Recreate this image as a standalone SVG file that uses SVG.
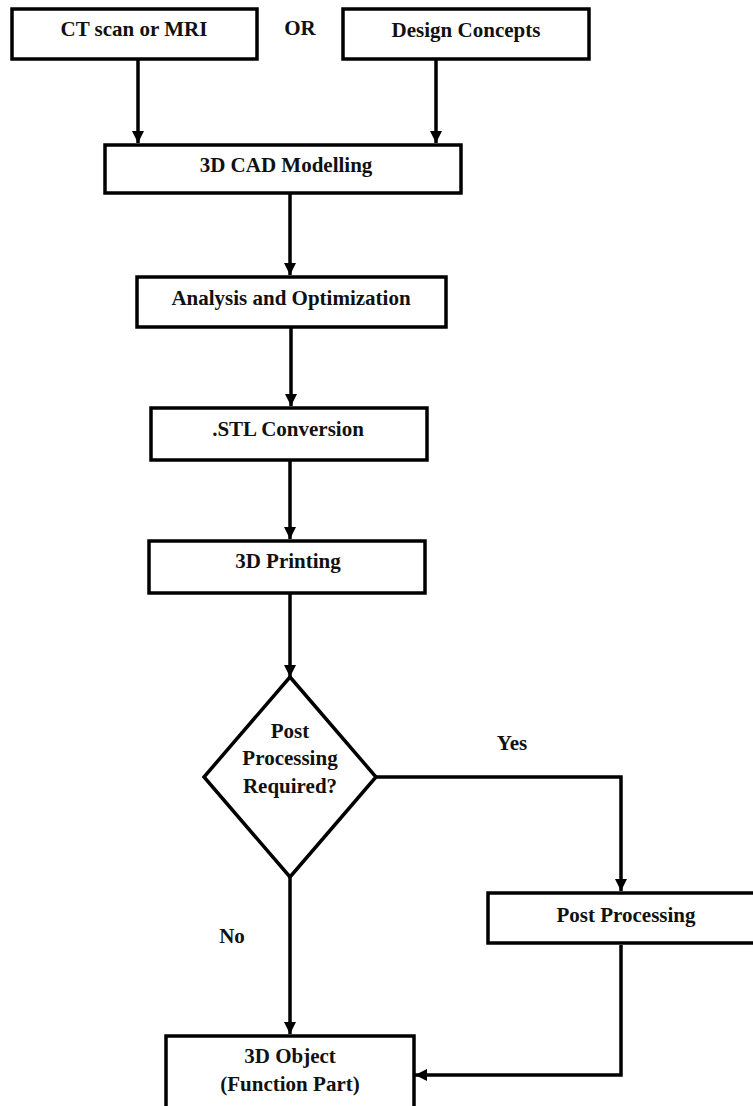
<svg xmlns="http://www.w3.org/2000/svg" width="753" height="1106" viewBox="0 0 753 1106">
<style>
.box{fill:#fff;stroke:#000;stroke-width:3.5}
.t{font-family:"Liberation Serif","Times New Roman",serif;font-weight:bold;font-size:21px;fill:#111;text-anchor:middle}
.c{fill:none;stroke:#000;stroke-width:3.5}
</style>
<defs>
<marker id="ah" markerUnits="userSpaceOnUse" markerWidth="12" markerHeight="14" refX="12" refY="6" orient="auto">
<path d="M0,0 L12,6 L0,12 Z" fill="#000"/>
</marker>
</defs>
<rect width="753" height="1106" fill="#fff"/>
<g id="connectors">
<line class="c" x1="138" y1="60" x2="138" y2="143" marker-end="url(#ah)"/>
<line class="c" x1="436" y1="60" x2="436" y2="143" marker-end="url(#ah)"/>
<line class="c" x1="290" y1="193" x2="290" y2="275" marker-end="url(#ah)"/>
<line class="c" x1="291" y1="327" x2="291" y2="406" marker-end="url(#ah)"/>
<line class="c" x1="290" y1="460" x2="290" y2="539" marker-end="url(#ah)"/>
<line class="c" x1="290" y1="593" x2="290" y2="677" marker-end="url(#ah)"/>
<polyline class="c" points="376,777 621,777 621,891" marker-end="url(#ah)"/>
<line class="c" x1="290" y1="877" x2="290" y2="1034" marker-end="url(#ah)"/>
<polyline class="c" points="621,945 621,1075 415,1075" marker-end="url(#ah)"/>
</g>
<g id="ct">
<rect class="box" x="12" y="9" width="245" height="50"/>
<text class="t" x="134" y="36">CT scan or MRI</text>
</g>
<g id="or">
<text class="t" x="300" y="35">OR</text>
</g>
<g id="design">
<rect class="box" x="343" y="9" width="246" height="50"/>
<text class="t" x="466" y="37">Design Concepts</text>
</g>
<g id="cad">
<rect class="box" x="105" y="145" width="356" height="48"/>
<text class="t" x="286" y="172">3D CAD Modelling</text>
</g>
<g id="analysis">
<rect class="box" x="137" y="277" width="309" height="50"/>
<text class="t" x="291" y="305">Analysis and Optimization</text>
</g>
<g id="stl">
<rect class="box" x="151" y="408" width="276" height="52"/>
<text class="t" x="288" y="436">.STL Conversion</text>
</g>
<g id="printing">
<rect class="box" x="149" y="541" width="276" height="52"/>
<text class="t" x="288" y="568">3D Printing</text>
</g>
<g id="decision">
<polygon class="box" points="290,677 376,777 290,877 204,777"/>
<text class="t" x="290" y="738">Post</text>
<text class="t" x="290" y="765">Processing</text>
<text class="t" x="290" y="793">Required?</text>
</g>
<g id="yes">
<text class="t" x="512" y="750">Yes</text>
</g>
<g id="no">
<text class="t" x="232" y="943">No</text>
</g>
<g id="postproc">
<rect class="box" x="488" y="893" width="290" height="50"/>
<text class="t" x="626" y="922">Post Processing</text>
</g>
<g id="object">
<rect class="box" x="166" y="1036" width="248" height="100"/>
<text class="t" x="290" y="1063">3D Object</text>
<text class="t" x="290" y="1091">(Function Part)</text>
</g>
</svg>
